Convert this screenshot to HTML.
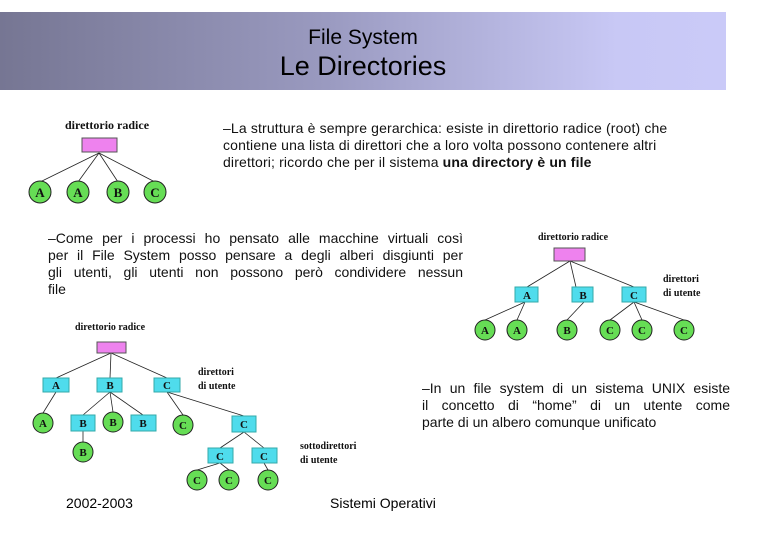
<!DOCTYPE html>
<html><head><meta charset="utf-8"><style>
body{margin:0;width:780px;height:540px;background:#fff;position:relative;overflow:hidden;font-family:"Liberation Sans",sans-serif;}
.hdr{position:absolute;left:0;top:12px;width:726px;height:78px;background:linear-gradient(90deg,#767693 0%,#9a9ac0 45%,#c8c8f5 85%,#cacaf8 100%);text-align:center;color:#000;}
.p{position:absolute;font-size:14px;line-height:17px;color:#111;}
.j div{text-align:justify;text-align-last:justify;white-space:nowrap;}
.j div.l{text-align-last:left;}
svg{position:absolute;left:0;top:0;}
</style></head><body>
<div class="hdr"><div style="font-size:21px;margin-top:13px;line-height:25px">File System</div><div style="font-size:27px;line-height:32px">Le Directories</div></div>
<div class="p" style="left:223px;top:120px;width:492px;letter-spacing:0.15px">–La struttura è sempre gerarchica: esiste in direttorio radice (root) che<br>contiene una lista di direttori che a loro volta possono contenere altri<br>direttori; ricordo che per il sistema <b>una directory è un file</b></div>
<div class="p j" style="left:48px;top:230px;width:415px"><div>–Come per i processi ho pensato alle macchine virtuali così</div><div>per il File System posso pensare a degli alberi disgiunti per</div><div>gli utenti, gli utenti non possono però condividere nessun</div><div class="l">file</div></div>
<div class="p j" style="left:422px;top:380px;width:308px"><div>–In un file system di un sistema UNIX esiste</div><div>il concetto di “home” di un utente come</div><div class="l">parte di un albero comunque unificato</div></div>
<div style="position:absolute;left:66px;top:495px;font-size:14px">2002-2003</div>
<div style="position:absolute;left:330px;top:495px;font-size:14px">Sistemi Operativi</div>
<svg width="780" height="540" font-family="Liberation Serif,serif" font-weight="bold" font-size="11">
<g stroke="#222" stroke-width="0.8">
<line x1="99" y1="153" x2="40" y2="182"/><line x1="99" y1="153" x2="78" y2="182"/><line x1="99" y1="153" x2="118" y2="182"/><line x1="99" y1="153" x2="155" y2="182"/>
<line x1="570" y1="261" x2="527" y2="287"/><line x1="570" y1="261" x2="576" y2="287"/><line x1="570" y1="261" x2="634" y2="287"/>
<line x1="525" y1="302" x2="485" y2="320"/><line x1="525" y1="302" x2="517" y2="320"/><line x1="584" y1="302" x2="567" y2="320"/><line x1="634" y1="302" x2="610" y2="320"/><line x1="634" y1="302" x2="642" y2="320"/><line x1="634" y1="302" x2="684" y2="320"/>
<line x1="111" y1="353" x2="56" y2="378"/><line x1="111" y1="353" x2="110" y2="378"/><line x1="111" y1="353" x2="167" y2="378"/>
<line x1="56" y1="392" x2="43" y2="413"/><line x1="110" y1="392" x2="83" y2="415"/><line x1="110" y1="392" x2="113" y2="412"/><line x1="110" y1="392" x2="143" y2="415"/>
<line x1="167" y1="392" x2="183" y2="415"/><line x1="167" y1="392" x2="244" y2="416"/><line x1="83" y1="431" x2="83" y2="442"/>
<line x1="244" y1="432" x2="220" y2="448"/><line x1="244" y1="432" x2="264" y2="448"/>
<line x1="220" y1="463" x2="197" y2="470"/><line x1="220" y1="463" x2="229" y2="470"/><line x1="264" y1="463" x2="268" y2="470"/>
</g>
<g fill="#ee82ee" stroke="#555"><rect x="82" y="138" width="35" height="14"/><rect x="554" y="248" width="31" height="13"/><rect x="97" y="342" width="29" height="11"/></g>
<g fill="#4fdcec" stroke="#3aa"><rect x="515" y="287" width="23" height="15"/><rect x="572" y="287" width="21" height="15"/><rect x="622" y="287" width="24" height="15"/>
<rect x="43" y="378" width="26" height="14"/><rect x="97" y="378" width="25" height="14"/><rect x="154" y="378" width="26" height="14"/>
<rect x="71" y="415" width="24" height="16"/><rect x="131" y="415" width="25" height="16"/><rect x="232" y="416" width="24" height="16"/>
<rect x="208" y="448" width="25" height="15"/><rect x="252" y="448" width="25" height="15"/></g>
<g fill="#66dd55" stroke="#222"><circle cx="40" cy="192" r="11"/><circle cx="78" cy="192" r="11"/><circle cx="118" cy="192" r="11"/><circle cx="155" cy="192" r="11"/>
<circle cx="485" cy="330" r="10"/><circle cx="517" cy="330" r="10"/><circle cx="567" cy="330" r="10"/><circle cx="610" cy="330" r="10"/><circle cx="642" cy="330" r="10"/><circle cx="684" cy="330" r="10"/>
<circle cx="43" cy="423" r="10"/><circle cx="113" cy="422" r="10"/><circle cx="183" cy="425" r="10"/><circle cx="83" cy="452" r="10"/>
<circle cx="197" cy="480" r="10"/><circle cx="229" cy="480" r="10"/><circle cx="268" cy="480" r="10"/></g>
<g text-anchor="middle" fill="#111">
<text x="40" y="197" font-size="13">A</text><text x="78" y="197" font-size="13">A</text><text x="118" y="197" font-size="13">B</text><text x="155" y="197" font-size="13">C</text>
<text x="107" y="129" font-size="12">direttorio radice</text>
<text x="573" y="240" font-size="10">direttorio radice</text>
<text x="527" y="299">A</text><text x="583" y="299">B</text><text x="634" y="299">C</text>
<text x="485" y="334">A</text><text x="517" y="334">A</text><text x="567" y="334">B</text><text x="610" y="334">C</text><text x="642" y="334">C</text><text x="684" y="334">C</text>
<text x="110" y="330" font-size="10">direttorio radice</text>
<text x="56" y="389">A</text><text x="110" y="389">B</text><text x="167" y="389">C</text>
<text x="43" y="427">A</text><text x="83" y="427">B</text><text x="113" y="426">B</text><text x="143" y="427">B</text><text x="183" y="429">C</text><text x="244" y="428">C</text>
<text x="83" y="456">B</text><text x="220" y="460">C</text><text x="264" y="460">C</text>
<text x="197" y="484">C</text><text x="229" y="484">C</text><text x="268" y="484">C</text>
</g>
<g fill="#111" font-size="10">
<text x="663" y="282">direttori</text><text x="663" y="296">di utente</text>
<text x="198" y="375">direttori</text><text x="198" y="389">di utente</text>
<text x="300" y="449">sottodirettori</text><text x="300" y="463">di utente</text>
</g>
</svg>
</body></html>
